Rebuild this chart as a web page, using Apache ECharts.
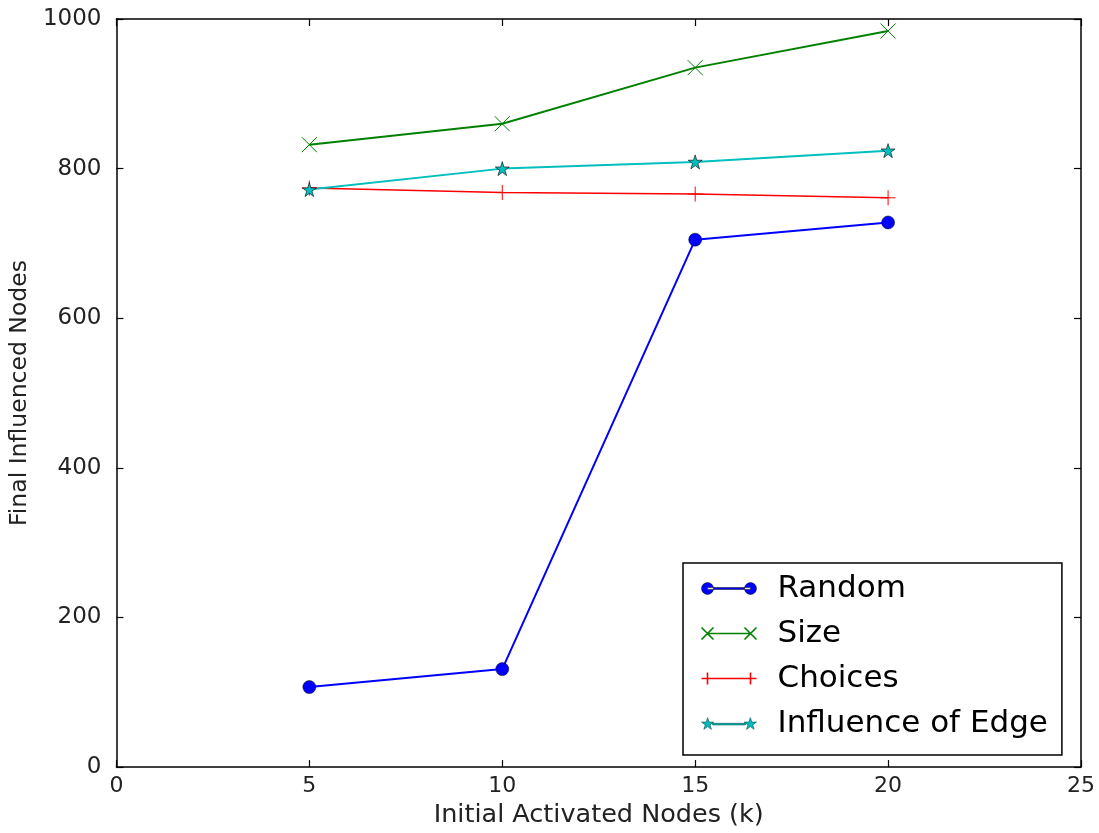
<!DOCTYPE html>
<html>
<head>
<meta charset="utf-8">
<script src="https://cdn.jsdelivr.net/npm/echarts@6/dist/echarts.min.js"></script>
<style>
  html, body { margin: 0; padding: 0; background: #fff; }
  #chart { width: 1099px; height: 833px; }
</style>
</head>
<body>
<div id="chart"></div>
<script>
// data
var kValues = [5, 10, 15, 20];
var names = ['Random', 'Size', 'Choices', 'Influence of Edge'];
var randomVals = [107, 131, 705, 728];
var sizeVals = [832, 860, 935, 984];
var choicesVals = [774, 768, 766, 761];
var edgeVals = [772, 800, 809, 824];
var xTicks = [0, 5, 10, 15, 20, 25];
var yTicks = [0, 200, 400, 600, 800, 1000];

var FONT = 'DejaVu Sans';

function pairs(vals) {
    return kValues.map(function (k, i) { return [k, vals[i]]; });
}

// marker glyphs
function starPts(cx, cy, R) {
    var r = R * 0.381966, s = '';
    for (var i = 0; i < 10; i++) {
        var a = (-90 + i * 36) * Math.PI / 180;
        var rr = i % 2 === 0 ? R : r;
        s += (i === 0 ? 'M' : 'L') + (cx + rr * Math.cos(a)).toFixed(3) + ',' + (cy + rr * Math.sin(a)).toFixed(3);
    }
    return s + 'Z';
}
var crossSym = 'path://M0,0L10,10M0,10L10,0';
var plusSym = 'path://M5,0L5,10M0,5L10,5';
var starSym = 'path://' + starPts(10, 10, 10);

// legend handles: line with a marker at each end
var iconRandom = 'path://M0,7a6,6 0 1,0 12,0a6,6 0 1,0 -12,0Z M43,7a6,6 0 1,0 12,0a6,6 0 1,0 -12,0Z M6,6.1L49,6.1L49,7.9L6,7.9Z';
var iconSize = 'path://M0,1L12,13M0,13L12,1M43,1L55,13M43,13L55,1M6,7L49,7M0,0.9L0,1M55,13L55,13.1';
var iconChoices = 'path://M6,1L6,13M0,7L12,7M49,1L49,13M43,7L55,7M6,7L49,7';
var iconEdge = 'path://' + starPts(6, 7, 6.5) + starPts(49, 7, 6.5) + 'M11,6.2L44,6.2L44,7.8L11,7.8Z';

var chart = echarts.init(document.getElementById('chart'));

var tickStyle = { show: true, inside: true, length: 7, lineStyle: { color: '#000', width: 1.2 } };
var lineAxis = { show: true, onZero: false, lineStyle: { color: '#000', width: 1.5 } };

option = {
    animation: false,
    backgroundColor: '#fff',
    grid: { left: 116, right: 18, top: 19, bottom: 65, containLabel: false },
    xAxis: [
        {
            type: 'value', min: 0, max: 25, interval: 5, position: 'bottom',
            name: 'Initial Activated Nodes (k)', nameLocation: 'middle', nameGap: 33,
            nameTextStyle: { fontFamily: FONT, fontSize: 25.5, color: '#222' },
            axisLine: lineAxis, axisTick: tickStyle, splitLine: { show: false },
            axisLabel: {
                margin: 8, fontFamily: FONT, fontSize: 22, color: '#222',
                formatter: function (v) { return xTicks.indexOf(v) >= 0 ? String(v) : ''; }
            }
        },
        {
            type: 'value', min: 0, max: 25, interval: 5, position: 'top',
            axisLine: lineAxis, axisTick: tickStyle, axisLabel: { show: false }, splitLine: { show: false }
        }
    ],
    yAxis: [
        {
            type: 'value', min: 0, max: 1000, interval: 200, position: 'left',
            name: 'Final Influenced Nodes', nameLocation: 'middle', nameGap: 82, nameRotate: 90,
            nameTextStyle: { fontFamily: FONT, fontSize: 23.5, color: '#222' },
            axisLine: lineAxis, axisTick: tickStyle, splitLine: { show: false },
            axisLabel: {
                margin: 15, fontFamily: FONT, fontSize: 23, color: '#222',
                formatter: function (v) { return yTicks.indexOf(v) >= 0 ? String(v) : ''; }
            }
        },
        {
            type: 'value', min: 0, max: 1000, interval: 200, position: 'right',
            axisLine: lineAxis, axisTick: tickStyle, axisLabel: { show: false }, splitLine: { show: false }
        }
    ],
    legend: {
        orient: 'vertical',
        left: 683,
        top: 563,
        padding: [10, 14, 16, 16],
        itemGap: 14,
        itemWidth: 55,
        itemHeight: 14,
        backgroundColor: '#fff',
        borderColor: '#000',
        borderWidth: 1.5,
        borderRadius: 0,
        textStyle: { fontFamily: FONT, fontSize: 31, color: '#000', padding: [0, 0, 0, 16] },
        data: [
            { name: names[0], icon: iconRandom, itemStyle: { color: '#0000ff', borderColor: '#000', borderWidth: 0.5 } },
            { name: names[1], icon: iconSize, itemStyle: { color: 'none', borderColor: '#008000', borderWidth: 1.6 } },
            { name: names[2], icon: iconChoices, itemStyle: { color: 'none', borderColor: '#ff0000', borderWidth: 1.6 } },
            { name: names[3], icon: iconEdge, itemStyle: { color: '#00bfbf', borderColor: '#004d4d', borderWidth: 0.6 } }
        ]
    },
    series: [
        {
            name: names[0], type: 'line', data: pairs(randomVals),
            symbol: 'circle', symbolSize: 13,
            lineStyle: { color: '#0000ff', width: 2 },
            itemStyle: { color: '#0000ff', borderColor: '#000', borderWidth: 0.5 }
        },
        {
            name: names[1], type: 'line', data: pairs(sizeVals),
            symbol: crossSym, symbolSize: 15,
            lineStyle: { color: '#008000', width: 2 },
            itemStyle: { color: '#008000', borderColor: '#008000', borderWidth: 1 }
        },
        {
            name: names[2], type: 'line', data: pairs(choicesVals),
            symbol: plusSym, symbolSize: 15,
            lineStyle: { color: '#ff0000', width: 1.6 },
            itemStyle: { color: '#ff0000', borderColor: '#ff0000', borderWidth: 1 }
        },
        {
            name: names[3], type: 'line', data: pairs(edgeVals),
            symbol: starSym, symbolSize: 14,
            lineStyle: { color: '#00bfbf', width: 2 },
            itemStyle: { color: '#00bfbf', borderColor: '#000', borderWidth: 0.6 }
        }
    ]
};

chart.setOption(option);
</script>
</body>
</html>
